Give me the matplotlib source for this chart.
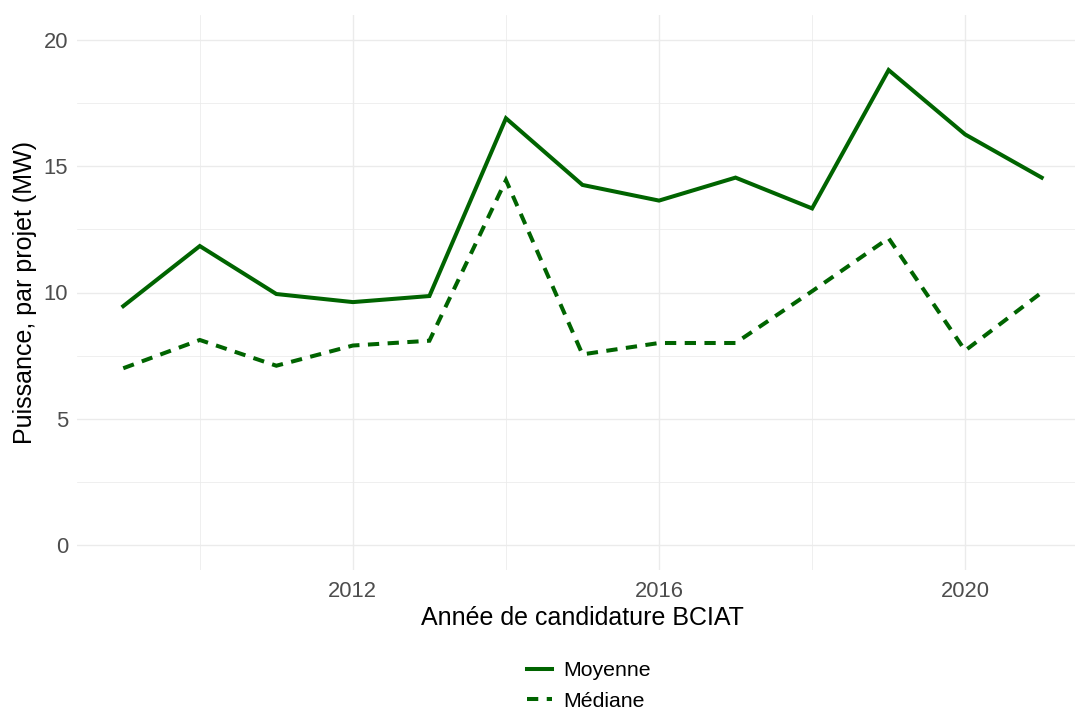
import matplotlib
matplotlib.use("Agg")
import matplotlib.pyplot as plt
from matplotlib.ticker import FixedLocator

years = [2009, 2010, 2011, 2012, 2013, 2014, 2015, 2016, 2017, 2018, 2019, 2020, 2021]
moyenne = [9.46, 11.84, 9.94, 9.62, 9.86, 16.9, 14.26, 13.64, 14.55, 13.33, 18.81, 16.26, 14.55]
mediane = [7.0, 8.12, 7.1, 7.9, 8.09, 14.45, 7.55, 8.0, 8.0, 10.05, 12.15, 7.7, 10.0]
series_labels = ["Moyenne", "Médiane"]
x_major = [2012, 2016, 2020]
x_minor = [2010, 2014, 2018]
y_major = [0, 5, 10, 15, 20]
y_minor = [2.5, 7.5, 12.5, 17.5]

plt.rcParams['font.family'] = ['Liberation Sans', 'DejaVu Sans']

W, H = 1075, 709
fig = plt.figure(figsize=(W / 100, H / 100), dpi=100)
left_px, right_px = 77.35, 1087.6
top_px, bot_px = 14.75, 570.25
ax = fig.add_axes([left_px / W, 1 - bot_px / H, (right_px - left_px) / W, (bot_px - top_px) / H])

green = "#006400"
ax.plot(years, moyenne, color=green, lw=2.9, solid_joinstyle="miter", label=series_labels[0])
ax.plot(years, mediane, color=green, lw=2.9, linestyle=(0, (2.8, 2.1)), dash_capstyle="butt",
        dash_joinstyle="miter", label=series_labels[1])

ax.set_xlim(2008.4, 2021.6)
ax.set_ylim(-1, 21)
ax.xaxis.set_major_locator(FixedLocator(x_major))
ax.xaxis.set_minor_locator(FixedLocator(x_minor))
ax.yaxis.set_major_locator(FixedLocator(y_major))
ax.yaxis.set_minor_locator(FixedLocator(y_minor))

ax.grid(which="major", color="#EBEBEB", lw=1.0)
ax.grid(which="minor", color="#EBEBEB", lw=0.55)
ax.set_axisbelow(True)
for s in ax.spines.values():
    s.set_visible(False)
ax.tick_params(which="both", length=0)
ax.tick_params(axis="x", labelsize=15.8, labelcolor="#4D4D4D", pad=7.5)
ax.tick_params(axis="y", labelsize=15.8, labelcolor="#4D4D4D", pad=6.5)

ax.set_xlabel("Année de candidature BCIAT", fontsize=18, color="black", labelpad=3)
ax.set_ylabel("Puissance, par projet (MW)", fontsize=18, color="black", labelpad=5)

leg = fig.legend(loc="center", bbox_to_anchor=(589 / W, 1 - 686 / H), ncol=1, frameon=False,
                 fontsize=15.3, handlelength=1.15, handletextpad=0.52, labelspacing=0.55)

fig.savefig("out.png", dpi=100, facecolor="white")
